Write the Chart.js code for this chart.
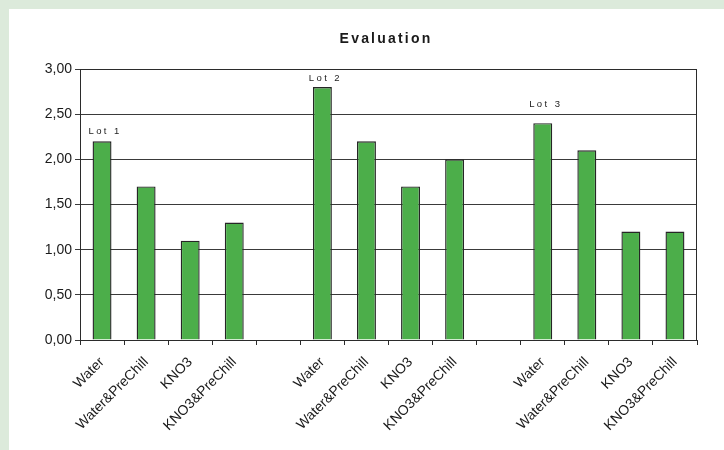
<!DOCTYPE html>
<html>
<head>
<meta charset="utf-8">
<script src="https://cdn.jsdelivr.net/npm/chart.js@4"></script>
<style>
  html, body { margin: 0; padding: 0; }
  body { width: 724px; height: 450px; background: #dceadb; overflow: hidden; position: relative; }
  #panel { position: absolute; left: 9px; top: 9px; width: 715px; height: 441px; background: #fff; }
</style>
</head>
<body>
<div id="panel"><canvas id="chart" width="715" height="441"></canvas></div>
<script>
// treatments per lot, empty slots keep the lots apart
const categories = [
  "Water", "Water&PreChill", "KNO3", "KNO3&PreChill", "",
  "Water", "Water&PreChill", "KNO3", "KNO3&PreChill", "",
  "Water", "Water&PreChill", "KNO3", "KNO3&PreChill"
];
const scores = [
  2.2, 1.7, 1.1, 1.3, null,
  2.8, 2.2, 1.7, 2.0, null,
  2.4, 2.1, 1.2, 1.2
];
const yTicks = [0, 0.5, 1, 1.5, 2, 2.5, 3];

// lot captions: category index and height (in axis units) where they sit
const lotNames = ["Lot 1", "Lot 2", "Lot 3"];
const lotIndex = [0, 5, 10];
const lotLabelY = [2.31, 2.90, 2.61];

const fmt = v => v.toFixed(2).replace(".", ",");
const FONT = "'Liberation Sans', Arial, sans-serif";

const extras = {
  id: "extras",
  afterDraw(chart) {
    const { ctx, chartArea: a, scales } = chart;
    ctx.save();
    // frame round the plot
    ctx.strokeStyle = "#2b2b2b";
    ctx.lineWidth = 1;
    ctx.strokeRect(a.left + 0.5, a.top + 0.5, a.right - a.left - 1, a.bottom - a.top);

    // title
    ctx.fillStyle = "#1a1a1a";
    ctx.font = "bold 14px " + FONT;
    ctx.letterSpacing = "2.2px";
    ctx.textAlign = "center";
    ctx.textBaseline = "middle";
    ctx.fillText("Evaluation", 377, 30);

    // lot captions
    ctx.font = "9.5px " + FONT;
    ctx.letterSpacing = "2.4px";
    ctx.fillStyle = "#222";
    lotNames.forEach((name, i) => {
      const x = scales.x.getPixelForValue(lotIndex[i]);
      const y = scales.y.getPixelForValue(lotLabelY[i]);
      ctx.fillText(name, x + 3, y);
    });
    ctx.restore();
  }
};

new Chart(document.getElementById("chart"), {
  type: "bar",
  data: {
    labels: categories,
    datasets: [{
      data: scores,
      backgroundColor: "#4cae4a",
      borderColor: "#262626",
      borderWidth: 1.4,
      borderSkipped: "bottom",
      barPercentage: 0.43,
      categoryPercentage: 1
    }]
  },
  options: {
    responsive: false,
    animation: false,
    layout: { padding: { top: 60, right: 27, left: 0, bottom: 0 } },
    plugins: {
      legend: { display: false },
      tooltip: { enabled: false },
      title: { display: false }
    },
    scales: {
      x: {
        grid: {
          offset: true,
          drawOnChartArea: false,
          drawTicks: true,
          tickLength: 5,
          color: "#2b2b2b"
        },
        border: { color: "#2b2b2b" },
        ticks: {
          autoSkip: false,
          maxRotation: 45,
          minRotation: 45,
          padding: 9,
          color: "#1a1a1a",
          font: { family: FONT, size: 14 }
        },
        afterFit(s) { s.height = 110; }
      },
      y: {
        min: 0,
        max: 3,
        afterBuildTicks(s) { s.ticks = yTicks.map(v => ({ value: v })); },
        grid: {
          color: "#3a3a3a",
          tickLength: 5
        },
        border: { color: "#2b2b2b" },
        ticks: {
          padding: 3,
          color: "#1a1a1a",
          font: { family: FONT, size: 14 },
          callback: v => fmt(v)
        },
        afterFit(s) { s.width = 71; }
      }
    }
  },
  plugins: [extras]
});
</script>
</body>
</html>
